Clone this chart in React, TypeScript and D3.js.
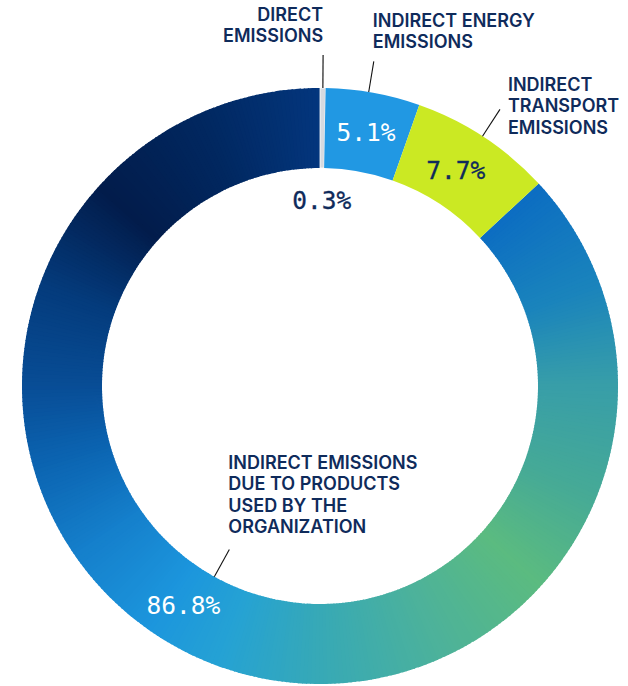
import React from "react";
import * as d3 from "d3";

const categories = [
  "DIRECT EMISSIONS",
  "INDIRECT ENERGY EMISSIONS",
  "INDIRECT TRANSPORT EMISSIONS",
  "INDIRECT EMISSIONS DUE TO PRODUCTS USED BY THE ORGANIZATION",
];
const categoryLines = [
  ["DIRECT", "EMISSIONS"],
  ["INDIRECT ENERGY", "EMISSIONS"],
  ["INDIRECT", "TRANSPORT", "EMISSIONS"],
  ["INDIRECT EMISSIONS", "DUE TO PRODUCTS", "USED BY THE", "ORGANIZATION"],
];
const values = [0.3, 5.1, 7.7, 86.8];
const valueLabels = ["0.3%", "5.1%", "7.7%", "86.8%"];
const sliceColors = ["#d6dae0", "#2198e3", "#cbe923", "gradient"];
const valueLabelColors = ["#0f2b5b", "#ffffff", "#0f2b5b", "#ffffff"];

// gradient stops of the large segment, by angle (degrees clockwise from top)
const gradAngles = [47, 70, 90, 112, 132, 155, 180, 200, 215, 235, 255, 270, 290, 312, 335, 360];
const gradColors = [
  "#0c6dc2", "#1a84bc", "#389ea8", "#46aa96", "#5bbb80", "#4db29a", "#37a9b6",
  "#25a2d4", "#1c96dd", "#1580cc", "#0b63b0", "#084d96", "#043b7c", "#021c4b",
  "#01275f", "#03367d",
];

const W = 628;
const H = 686;
const cx = 320;
const cy = 386;
const rOuter = 298;
const rInner = 218;

export default function App() {
  const pie = d3
    .pie<number>()
    .sort(null)
    .value((d) => d)
    .startAngle(0)
    .endAngle(2 * Math.PI);
  const arcs = pie(values);
  const arc = d3.arc<any>().innerRadius(rInner).outerRadius(rOuter);
  const colorScale = d3
    .scaleLinear<string>()
    .domain(gradAngles.map((a) => (a * Math.PI) / 180))
    .range(gradColors)
    .interpolate(d3.interpolateRgb)
    .clamp(true);

  const toXY = (angle: number, r: number) => [
    cx + r * Math.sin(angle),
    cy - r * Math.cos(angle),
  ];

  const font = "Inter, 'Noto Sans', sans-serif";
  const monoFont = "'DejaVu Sans Mono', monospace";
  const navy = "#0f2b5b";
  const lineH = 21.3;

  // sub-slices of the gradient segment
  const big = arcs[3];
  const n = 400;
  const step = (big.endAngle - big.startAngle) / n;
  const subs = d3.range(n).map((i) => {
    const a0 = big.startAngle + i * step;
    const a1 = Math.min(big.endAngle, a0 + step + 0.004);
    return { a0, a1, color: colorScale(a0 + step / 2) };
  });

  const mid = (d: any) => (d.startAngle + d.endAngle) / 2;

  // leader lines
  const leaders = [
    { angle: mid(arcs[0]), r0: rOuter, r1: rOuter + 33 },
    { angle: mid(arcs[1]) - 0.015, r0: rOuter, r1: rOuter + 31 },
    { angle: mid(arcs[2]) - 0.005, r0: rOuter, r1: rOuter + 32 },
    { angle: (209 * Math.PI) / 180, r0: rInner, r1: rInner - 31 },
  ];

  // label text blocks (anchor, first-baseline)
  const labelPos = [
    { pt: toXY(leaders[0].angle, rOuter + 36), dx: 0, anchor: "end", firstBase: 21 },
    { pt: toXY(leaders[1].angle, rOuter + 31), dx: -1, anchor: "start", firstBase: 27 },
    { pt: toXY(leaders[2].angle, rOuter + 32), dx: 8, anchor: "start", firstBase: 91 },
    { pt: toXY(leaders[3].angle, rInner - 31), dx: -1, anchor: "start", firstBase: 469 },
  ];

  const rMid = (rInner + rOuter) / 2;
  const valuePos = [
    toXY(mid(arcs[0]), 186),
    toXY(mid(arcs[1]), rMid),
    toXY(mid(arcs[2]) - 0.02, rMid - 3),
    toXY((212 * Math.PI) / 180, rMid),
  ];

  return (
    <svg
      width={W}
      height={H}
      style={{ position: "absolute", left: 0, top: 0, background: "#fff" }}
    >
      <g>
        {subs.map((s, i) => (
          <path
            key={"s" + i}
            d={arc({ startAngle: s.a0, endAngle: s.a1 }) as string}
            transform={`translate(${cx},${cy})`}
            fill={s.color}
          />
        ))}
        {arcs.slice(0, 3).map((a, i) => (
          <path
            key={"a" + i}
            d={arc(a) as string}
            transform={`translate(${cx},${cy})`}
            fill={sliceColors[i]}
            stroke={i === 0 ? "#ffffff" : "none"}
            strokeWidth={0.8}
          />
        ))}
      </g>
      <g>
        {leaders.map((l, i) => {
          const [x0, y0] = toXY(l.angle, l.r0);
          const [x1, y1] = toXY(l.angle, l.r1);
          return (
            <line
              key={"l" + i}
              x1={x0}
              y1={y0}
              x2={x1}
              y2={y1}
              stroke={i === 0 ? "#555" : "#111"}
              strokeWidth={i === 0 ? 1.6 : 1.1}
            />
          );
        })}
      </g>
      <g>
        {categoryLines.map((lines, i) => {
          const p = labelPos[i];
          return (
            <text
              key={"c" + i}
              x={p.pt[0] + p.dx}
              y={p.firstBase}
              textAnchor={p.anchor as any}
              fontFamily={font}
              fontWeight={600}
              fontSize={18}
              fill={navy}
              aria-label={categories[i]}
            >
              {lines.map((t, j) => (
                <tspan key={j} x={p.pt[0] + p.dx} y={p.firstBase + j * lineH}>
                  {t}
                </tspan>
              ))}
            </text>
          );
        })}
      </g>
      <g>
        {valueLabels.map((t, i) => (
          <text
            key={"v" + i}
            x={valuePos[i][0]}
            y={valuePos[i][1]}
            dy="0.36em"
            textAnchor="middle"
            fontFamily={monoFont}
            fontSize={24.5}
            fill={valueLabelColors[i]}
            stroke={valueLabelColors[i]}
            strokeWidth={i === 0 || i === 2 ? 0.3 : 0}
          >
            {t}
          </text>
        ))}
      </g>
    </svg>
  );
}
